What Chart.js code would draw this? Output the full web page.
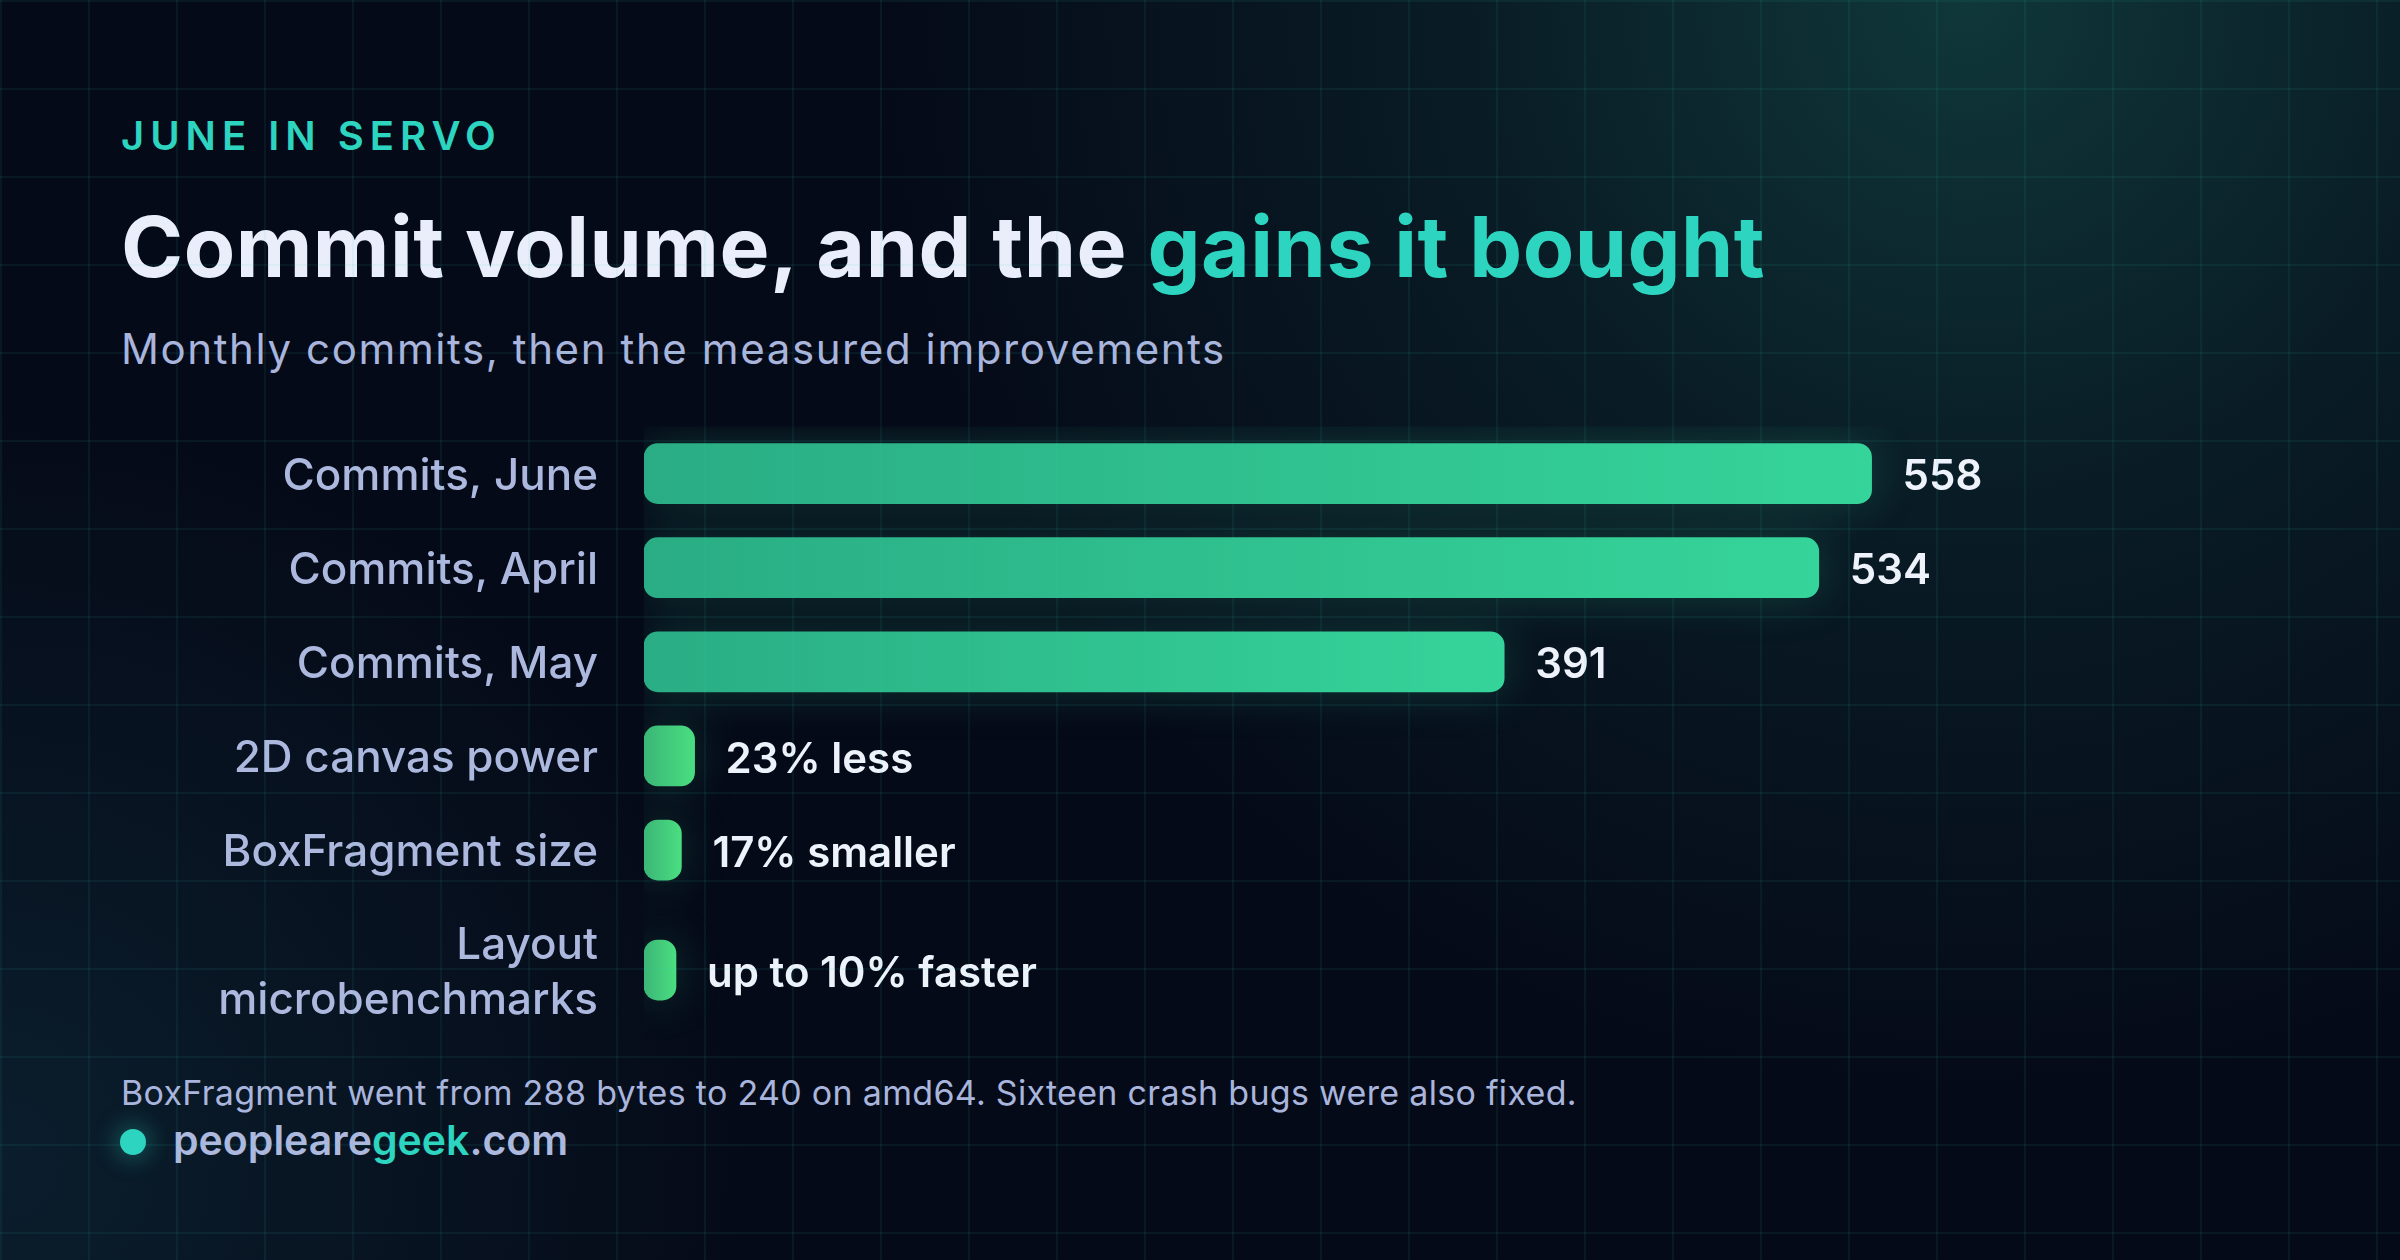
<!DOCTYPE html>
<html>
<head>
<meta charset="utf-8">
<script src="https://cdn.jsdelivr.net/npm/chart.js@4/dist/chart.umd.min.js"></script>
<style>
  html, body { margin: 0; padding: 0; }
  body {
    width: 2400px; height: 1260px; overflow: hidden; position: relative;
    background-color: #050a18;
    background-image:
      radial-gradient(circle at 82% 0%, rgba(24, 92, 84, 0.55) 0px, rgba(24, 92, 84, 0.22) 500px, rgba(24, 92, 84, 0) 1100px),
      radial-gradient(circle at 0% 92%, rgba(30, 100, 115, 0.22) 0px, rgba(30, 100, 115, 0) 750px);
    font-family: Inter, "Noto Sans", sans-serif;
  }
  .t { position: absolute; left: 121px; white-space: nowrap; line-height: 1; }
  #eyebrow { top: 116px; font-size: 40px; font-weight: 600; letter-spacing: 6px; color: #2dd4bf; }
  #title { top: 205px; font-size: 84px; font-weight: 700; color: #e9eefa; letter-spacing: 0.5px; }
  #title span { color: #2dd4bf; }
  #subtitle { top: 328px; font-size: 42px; font-weight: 400; color: #a9b5dc; letter-spacing: 1.6px; }
  #note { top: 1076px; font-size: 34px; font-weight: 400; color: #a9b5dc; letter-spacing: 0.3px; }
  #brand { top: 1120px; left: 173px; font-size: 41px; font-weight: 600; color: #acb8de; }
  #brand span { color: #2dd4bf; }
  #dot { position: absolute; left: 120px; top: 1129px; width: 26px; height: 26px; border-radius: 50%;
         background: #2dd4bf; box-shadow: 0 0 22px 6px rgba(45, 212, 191, 0.28); }
  #chartBox { position: absolute; left: 0; top: 420px; width: 2400px; height: 630px; }
  #grid {
    position: absolute; left: 0; top: 0; width: 2400px; height: 1260px; pointer-events: none;
    background-image:
      linear-gradient(to right, rgba(45, 212, 191, 0.075) 2px, transparent 2px),
      linear-gradient(to bottom, rgba(45, 212, 191, 0.075) 2px, transparent 2px);
    background-size: 88px 88px;
  }
</style>
</head>
<body>
<div class="t" id="eyebrow">JUNE IN SERVO</div>
<div class="t" id="title">Commit volume, and the <span>gains it bought</span></div>
<div class="t" id="subtitle">Monthly commits, then the measured improvements</div>
<div id="chartBox"><canvas id="c" width="2400" height="630"></canvas></div>
<div class="t" id="note">BoxFragment went from 288 bytes to 240 on amd64. Sixteen crash bugs were also fixed.</div>
<div id="dot"></div>
<div class="t" id="brand">peoplearegeek.com</div>
<div id="grid"></div>
<script>
// ---- data ----
const categories = ['Commits, June', 'Commits, April', 'Commits, May', '2D canvas power', 'BoxFragment size', 'Layout microbenchmarks'];
const categoryLines = [['Commits, June'], ['Commits, April'], ['Commits, May'], ['2D canvas power'], ['BoxFragment size'], ['Layout', 'microbenchmarks']];
const values = [558, 534, 391, 23, 17, 10];
const valueLabels = ['558', '534', '391', '23% less', '17% smaller', 'up to 10% faster'];
const groups = ['commits', 'commits', 'commits', 'gain', 'gain', 'gain'];

// brand text with highlighted part
document.getElementById('brand').innerHTML = 'peoplearegeek.com'.replace('geek', '<span>geek</span>');

// row placement in category units: a wrapped label makes its row taller
const rowSpan = categoryLines.map(l => 1 + (l.length - 1) * 0.55);
const rowPos = [];
rowSpan.forEach((s, i) => {
  rowPos.push(i === 0 ? 0 : rowPos[i - 1] + (rowSpan[i - 1] + s) / 2);
});
const yMin = -rowSpan[0] / 2;
const yMax = rowPos[rowPos.length - 1] + rowSpan[rowSpan.length - 1] / 2;

const palette = {
  commits: ['#2aad84', '#35d49a'],
  gain: ['#3bb677', '#4ade80']
};

function barFill(ctx) {
  const chart = ctx.chart;
  const xs = chart.scales.x;
  if (!chart.chartArea || !xs || ctx.dataIndex === undefined) return palette.commits[1];
  const g = groups[ctx.dataIndex];
  const x0 = xs.getPixelForValue(0);
  let x1 = xs.getPixelForValue(values[ctx.dataIndex]);
  if (x1 - x0 < 32) x1 = x0 + 32;
  const grad = chart.ctx.createLinearGradient(x0, 0, x1, 0);
  grad.addColorStop(0, palette[g][0]);
  grad.addColorStop(1, palette[g][1]);
  return grad;
}

const glowPlugin = {
  id: 'glow',
  beforeDatasetsDraw(chart) {
    const c = chart.ctx;
    c.save();
    c.shadowColor = 'rgba(52, 211, 153, 0.20)';
    c.shadowBlur = 44;
    c.shadowOffsetX = 0;
    c.shadowOffsetY = 0;
  },
  afterDatasetsDraw(chart) {
    chart.ctx.restore();
    const c = chart.ctx;
    const meta = chart.getDatasetMeta(0);
    c.save();
    c.font = '600 42px Inter, "Noto Sans", sans-serif';
    c.fillStyle = '#eef2fb';
    c.textAlign = 'left';
    c.textBaseline = 'middle';
    meta.data.forEach((el, i) => {
      c.fillText(valueLabels[i], el.x + 31, el.y + 4);
    });
    c.restore();
  }
};

new Chart(document.getElementById('c'), {
  type: 'bar',
  data: {
    labels: categories,
    datasets: [{
      data: values.map((v, i) => ({ x: v, y: rowPos[i] })),
      backgroundColor: barFill,
      borderRadius: 14,
      borderSkipped: false,
      barThickness: 60,
      minBarLength: 32
    }]
  },
  options: {
    indexAxis: 'y',
    responsive: false,
    animation: false,
    events: [],
    layout: { padding: { left: 0, right: 216, top: 6.5, bottom: 7 } },
    plugins: { legend: { display: false }, tooltip: { enabled: false } },
    scales: {
      x: { type: 'linear', min: 0, max: 700, display: false },
      y: {
        type: 'linear',
        reverse: true,
        offset: false,
        min: yMin,
        max: yMax,
        afterBuildTicks(scale) { scale.ticks = rowPos.map(v => ({ value: v })); },
        afterFit(scale) {
          scale.width = 644;
          scale.paddingTop = 0;
          scale.paddingBottom = 0;
        },
        grid: { display: false, drawTicks: false },
        border: { display: false },
        ticks: {
          autoSkip: false,
          padding: 46,
          labelOffset: 3,
          color: '#acb8de',
          font: { family: 'Inter, "Noto Sans", sans-serif', size: 44, weight: '500', lineHeight: 1.25 },
          callback(value, index) { return categoryLines[index]; }
        }
      }
    }
  },
  plugins: [glowPlugin]
});
</script>
</body>
</html>
